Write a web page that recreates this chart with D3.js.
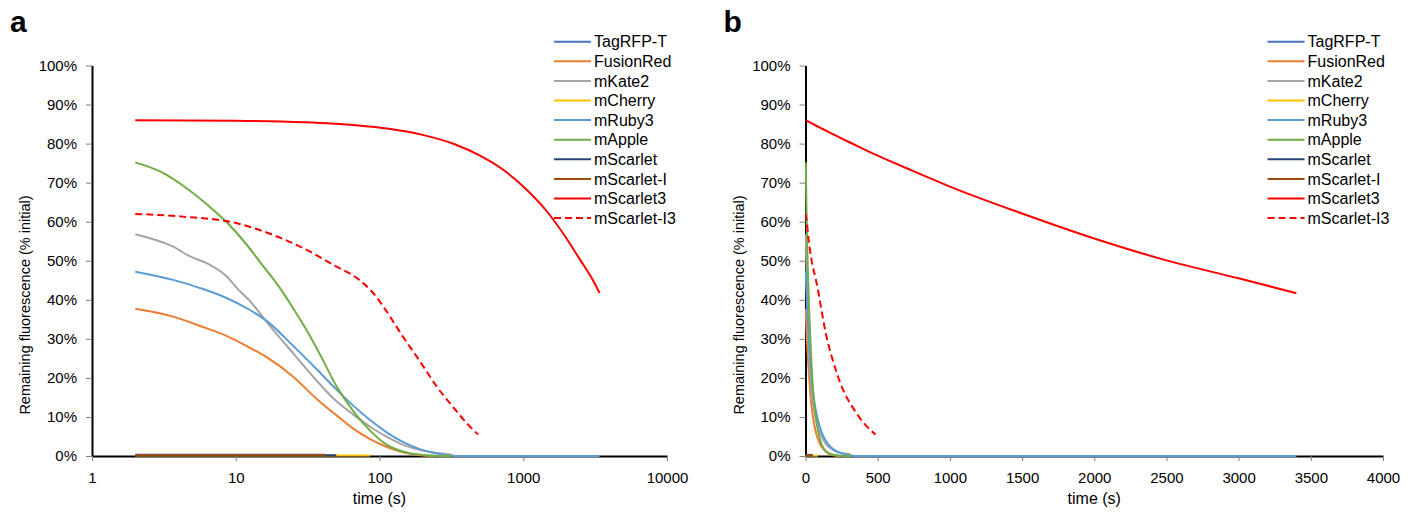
<!DOCTYPE html>
<html lang="en">
<head>
<meta charset="UTF-8">
<script src="https://cdn.jsdelivr.net/npm/d3@7"></script>
<style>
  body { margin: 0; background: #fff; }
  text { font-family: "Liberation Sans", Arial, sans-serif; fill: #000; }
</style>
</head>
<body>
<div id="fig"></div>
<script>
const width = 1417, height = 514;

// series names / styles (legend order)
const names = ["TagRFP-T", "FusionRed", "mKate2", "mCherry", "mRuby3", "mApple",
               "mScarlet", "mScarlet-I", "mScarlet3", "mScarlet-I3"];
const colors = ["#4472C4", "#ED7D31", "#A5A5A5", "#FFC000", "#5B9BD5", "#70AD47",
                "#264478", "#9E480E", "#FF0000", "#FF0000"];
const dashed = ["mScarlet-I3"];

// [time (s), remaining fluorescence %]
const tagRFPT = [[2, 0.3], [42, 0.3]];
const fusionRed = [[2, 37.7], [3.67, 35.7], [5.65, 33.3], [8.7, 30.7], [11.85, 28.2], [16.4, 25.3],
  [25.1, 20.3], [36.6, 14.6], [50.2, 10.4], [65.7, 7], [86, 4.3], [112.7, 2.3],
  [147.5, 0.9], [193, 0.2], [239, 0]];
const mKate2 = [[2, 56.8], [3.67, 53.6], [4.82, 51.1], [6.27, 49.4], [8.7, 45.9], [10.2, 43],
  [12.3, 40], [18.2, 32.3], [25.1, 26.3], [34.6, 20.3], [47.6, 14.8], [65.7, 10.6],
  [86, 7.5], [112.7, 4.9], [147.5, 2.8], [193, 1.5], [250, 0.8], [316, 0.3], [327, 0]];
const mCherry = [[2, 0.1], [86, 0.1]];
const mRuby3 = [[2, 47.2], [3.67, 45.1], [5.65, 43], [8.7, 40.4], [11.85, 37.9], [16.4, 34.6],
  [25.1, 28.2], [36.6, 22.2], [50.2, 17], [65.7, 12.9], [86, 9.2], [112.7, 6],
  [147.5, 3.5], [193, 1.7], [263, 0.5], [335, 0], [3400, 0]];
const mApple = [[2, 75.2], [3, 72.8], [4.5, 68.7], [6.5, 64], [8.9, 59.4], [11.5, 54.8],
  [14.8, 49.6], [20.2, 43.1], [25, 37.9], [30, 33.2], [38.8, 25.8], [50, 18],
  [65.7, 11.5], [86, 6.5], [112, 2.9], [147, 1.1], [193, 0.3], [263, 0], [316, 0]];
const mScarlet = [[2, 0.2], [50, 0.2]];
const mScarletI = [[2, 0.2], [42, 0.2]];
const mScarlet3 = [[2, 86], [10, 85.85], [30, 85.45], [68, 84.7], [116, 83.8], [196, 82.3],
  [330, 79.9], [500, 76.9], [750, 72.9], [1000, 69], [1500, 62.1], [2000, 55.7],
  [2500, 50.1], [3000, 45.5], [3400, 41.7]];
const mScarletI3 = [[2, 62], [4.3, 61.3], [10.2, 59.6], [18.2, 56.6], [31.1, 52.8], [50.2, 48.5],
  [70, 45.5], [90, 41.8], [110, 37.5], [140, 31.5], [185, 25], [217, 21.2], [250, 17.8],
  [292, 14.6], [343, 11.5], [402, 8.5], [445, 6.8], [485, 5.5]];

const seriesData = [tagRFPT, fusionRed, mKate2, mCherry, mRuby3, mApple,
                    mScarlet, mScarletI, mScarlet3, mScarletI3];

const yTicks = [0, 10, 20, 30, 40, 50, 60, 70, 80, 90, 100];
const logTicks = [1, 10, 100, 1000, 10000];
const linTicks = [0, 500, 1000, 1500, 2000, 2500, 3000, 3500, 4000];

const svg = d3.select("#fig").append("svg")
    .attr("width", width).attr("height", height);
svg.append("rect").attr("width", width).attr("height", height).attr("fill", "#fff");

const y = d3.scaleLinear().domain([0, 100]).range([456, 65.5]);

function drawPanel(x, label, left, xTicks, xFmt) {
    const g = svg.append("g");
    const right = x.range()[1];

    const line = d3.line()
        .x(d => x(d[0])).y(d => y(d[1]))
        .curve(d3.curveMonotoneX);

    // y axis
    const ya = g.append("g")
        .attr("transform", `translate(${left},0)`)
        .call(d3.axisLeft(y).tickValues(yTicks).tickFormat(d => d + "%")
            .tickSize(6).tickSizeOuter(0).tickPadding(9));
    ya.select(".domain").attr("stroke", "#000").attr("stroke-width", 2);
    ya.selectAll(".tick line").attr("stroke", "#7f7f7f");
    ya.selectAll("text").style("font-size", "15px")
        .style("font-family", "'Liberation Sans', Arial, sans-serif").attr("fill", "#000");

    // x axis
    const xa = g.append("g")
        .attr("transform", `translate(0,${y(0)})`)
        .call(d3.axisBottom(x).tickValues(xTicks).tickFormat(xFmt)
            .tickSize(5).tickSizeOuter(0).tickPadding(11));
    xa.select(".domain").attr("stroke", "#000").attr("stroke-width", 2);
    xa.selectAll(".tick line").attr("stroke", "#7f7f7f");
    xa.selectAll("text").style("font-size", "15px")
        .style("font-family", "'Liberation Sans', Arial, sans-serif").attr("fill", "#000");

    g.selectAll(".series")
        .data(seriesData)
        .join("path")
        .attr("class", "series")
        .attr("d", line)
        .attr("fill", "none")
        .attr("stroke", (d, i) => colors[i])
        .attr("stroke-width", 2)
        .attr("stroke-dasharray", (d, i) => dashed.includes(names[i]) ? "7,4" : null);

    // titles
    g.append("text")
        .attr("transform", `translate(${left - 67},305) rotate(-90)`)
        .attr("text-anchor", "middle")
        .attr("dominant-baseline", "central")
        .style("font-size", "14.5px")
        .text("Remaining fluorescence (% initial)");
    g.append("text")
        .attr("x", (left + right) / 2).attr("y", 498)
        .attr("text-anchor", "middle")
        .attr("dominant-baseline", "central")
        .style("font-size", "16px")
        .text("time (s)");
    g.append("text")
        .attr("x", left - 82).attr("y", 32)
        .style("font-size", "30px").style("font-weight", "bold")
        .text(label);

    // legend
    const lg = g.append("g").attr("transform", `translate(${left + 462},41.7)`);
    const rows = lg.selectAll("g").data(names).join("g")
        .attr("transform", (d, i) => `translate(0,${i * 19.6})`);
    rows.append("line")
        .attr("x1", 0).attr("x2", 37)
        .attr("stroke", (d, i) => colors[i])
        .attr("stroke-width", 2)
        .attr("stroke-dasharray", d => dashed.includes(d) ? "7,4" : null);
    rows.append("text")
        .attr("x", 40).attr("dy", "0.35em")
        .style("font-size", "16px")
        .text(d => d);
}

const xLog = d3.scaleLog().domain([1, 10000]).range([92, 667]);
const xLin = d3.scaleLinear().domain([0, 4000]).range([805.5, 1383]);

drawPanel(xLog, "a", 92, logTicks, d3.format("d"));
drawPanel(xLin, "b", 805.5, linTicks, d3.format("d"));
</script>
</body>
</html>
